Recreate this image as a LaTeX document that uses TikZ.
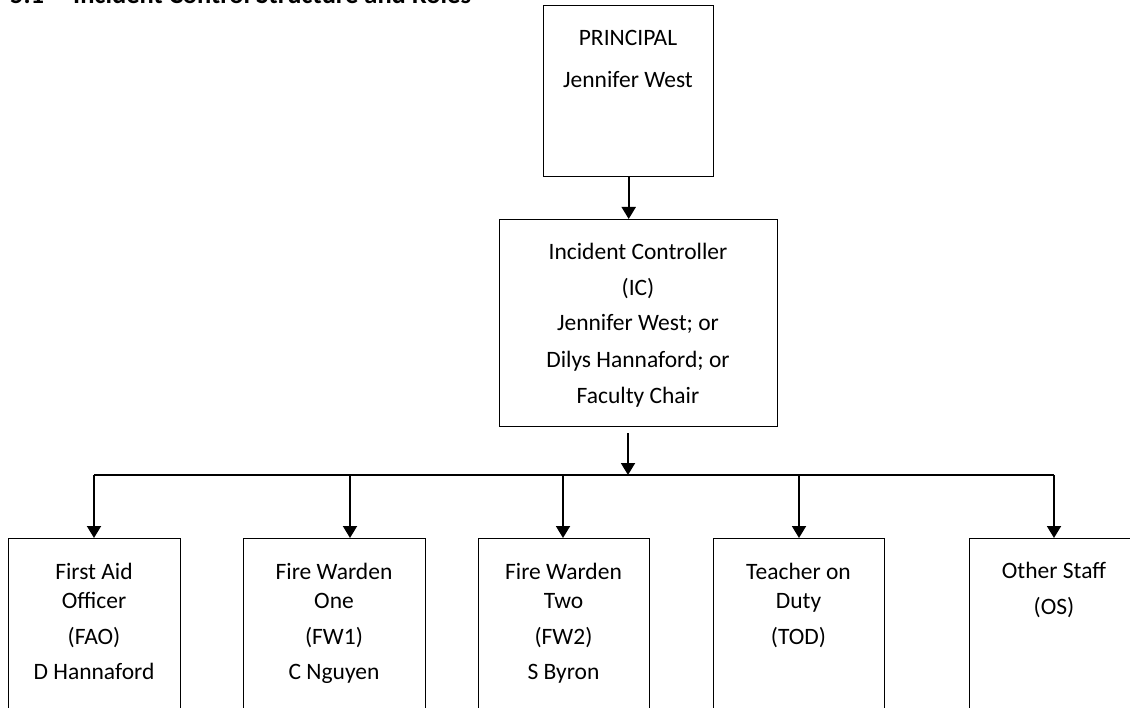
\documentclass[tikz,border=0pt]{standalone}
\usepackage{fontspec}
\setmainfont{Carlito}
\usetikzlibrary{arrows.meta}
\begin{document}
\begin{tikzpicture}[x=1pt,y=-1pt,
  box/.style={draw, line width=1.4pt, inner sep=0pt, anchor=north west},
  txt/.style={anchor=base, inner sep=0pt, font=\fontsize{23.5}{28}\selectfont},
  arr/.style={line width=1.9pt, -{Triangle[width=14pt,length=12pt]}},
  bus/.style={line width=1.4pt}]
\useasboundingbox (0,0) rectangle (1130,708);
\clip (0,0) rectangle (1130,708);
\node[anchor=base west, inner sep=0pt, font=\bfseries\fontsize{26.5}{30}\selectfont] (title) at (10,4) {\makebox[63pt][l]{5.1}Incident Control Structure and Roles};
% boxes
\node[box, minimum width=170pt, minimum height=171pt] (pr) at (543,5) {};
\node[box, minimum width=278pt, minimum height=207pt] (ic) at (499,219) {};
\node[box, minimum width=172pt, minimum height=260pt] (fao) at (8,538) {};
\node[box, minimum width=182pt, minimum height=260pt] (fw1) at (243,538) {};
\node[box, minimum width=171pt, minimum height=260pt] (fw2) at (478,538) {};
\node[box, minimum width=171pt, minimum height=260pt] (tod) at (713,538) {};
\node[box, minimum width=171pt, minimum height=260pt] (os) at (969,538) {};
% texts
\node[txt] (pr1) at (628,46) {PRINCIPAL};
\node[txt] (pr2) at (628,88) {Jennifer West};
\node[txt] (ic1) at (638,260) {Incident Controller};
\node[txt] (ic2) at (638,296) {(IC)};
\node[txt] (ic3) at (638,331) {Jennifer West; or};
\node[txt] (ic4) at (638,367.5) {Dilys Hannaford; or};
\node[txt] (ic5) at (638,403.5) {Faculty Chair};
\node[txt] (fao1) at (94,579) {First Aid};
\node[txt] (fao2) at (94,608) {Officer};
\node[txt] (fao3) at (94,644) {(FAO)};
\node[txt] (fao4) at (94,679) {D Hannaford};
\node[txt] (fw11) at (334,579) {Fire Warden};
\node[txt] (fw12) at (334,608) {One};
\node[txt] (fw13) at (334,644) {(FW1)};
\node[txt] (fw14) at (334,679) {C Nguyen};
\node[txt] (fw21) at (563.5,579) {Fire Warden};
\node[txt] (fw22) at (563.5,608) {Two};
\node[txt] (fw23) at (563.5,644) {(FW2)};
\node[txt] (fw24) at (563.5,679) {S Byron};
\node[txt] (tod1) at (798.5,579) {Teacher on};
\node[txt] (tod2) at (798.5,608) {Duty};
\node[txt] (tod3) at (798.5,644) {(TOD)};
\node[txt] (os1) at (1054,578.5) {Other Staff};
\node[txt] (os2) at (1054,614) {(OS)};
% connectors
\coordinate (hub) at (628,475);
\coordinate (b1) at (94,475);
\coordinate (b2) at (350,475);
\coordinate (b3) at (563,475);
\coordinate (b4) at (799,475);
\coordinate (b5) at (1054,475);
\draw[arr] (pr.south) -- (pr.south |- ic.north);
\draw[arr] ([yshift=-6pt]ic.south -| hub) -- (hub);
\draw[bus] (b1) -- (b5);
\draw[arr] (b1) -- (b1 |- fao.north);
\draw[arr] (b2) -- (b2 |- fw1.north);
\draw[arr] (b3) -- (b3 |- fw2.north);
\draw[arr] (b4) -- (b4 |- tod.north);
\draw[arr] (b5) -- (b5 |- os.north);
\end{tikzpicture}
\end{document}
